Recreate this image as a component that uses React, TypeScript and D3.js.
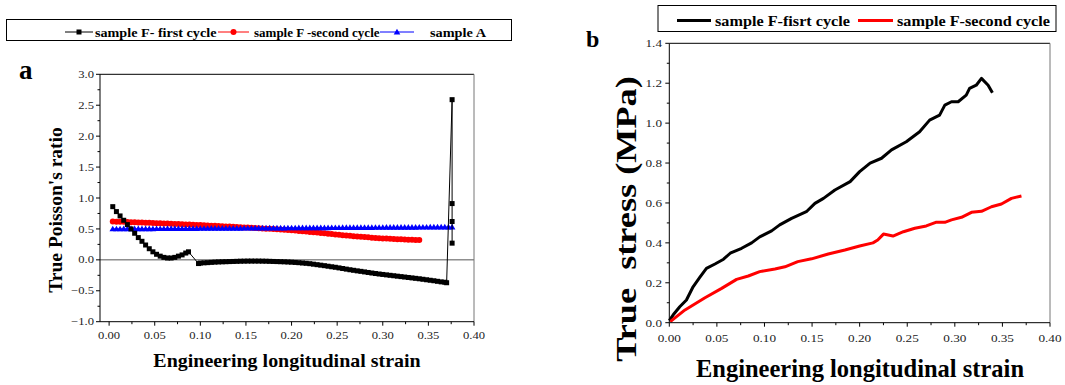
import React from "react";
import * as d3 from "d3";

// ---------- DATA ----------
// Common strain grid used by marker series in panel (a)
const strainGrid = [
  0.004, 0.008, 0.012, 0.016, 0.020, 0.024, 0.028, 0.032, 0.036, 0.040,
  0.044, 0.048, 0.052, 0.056, 0.060, 0.064, 0.068, 0.072, 0.076, 0.080,
  0.084, 0.088, 0.092, 0.096, 0.100, 0.104, 0.108, 0.112, 0.116, 0.120,
  0.124, 0.128, 0.132, 0.136, 0.140, 0.144, 0.148, 0.152, 0.156, 0.160,
  0.164, 0.168, 0.172, 0.176, 0.180, 0.184, 0.188, 0.192, 0.196, 0.200,
  0.204, 0.208, 0.212, 0.216, 0.220, 0.224, 0.228, 0.232, 0.236, 0.240,
  0.244, 0.248, 0.252, 0.256, 0.260, 0.264, 0.268, 0.272, 0.276, 0.280,
  0.284, 0.288, 0.292, 0.296, 0.300, 0.304, 0.308, 0.312, 0.316, 0.320,
  0.324, 0.328, 0.332, 0.336, 0.340, 0.344, 0.348, 0.352, 0.356, 0.360,
  0.364, 0.368, 0.372, 0.376,
];

// sample F - first cycle (panel a)
const strainF1a = [
  ...strainGrid.slice(0, 21), 0.087,
  0.098, ...strainGrid.slice(24, 92), 0.370,
  0.376, 0.376, 0.376, 0.376,
];
const poissonF1 = [
  0.86, 0.78, 0.71, 0.64, 0.57, 0.50, 0.43, 0.36, 0.30, 0.24,
  0.18, 0.13, 0.09, 0.06, 0.04, 0.03, 0.03, 0.04, 0.06, 0.08,
  0.11, 0.13,
  -0.060,
  -0.052, -0.048, -0.045, -0.041, -0.037, -0.034, -0.032, -0.030, -0.028, -0.026,
  -0.024, -0.022, -0.021, -0.020, -0.020, -0.020, -0.020, -0.021, -0.022, -0.024,
  -0.026, -0.028, -0.030, -0.032, -0.035, -0.038, -0.042, -0.046, -0.051, -0.056,
  -0.062, -0.070, -0.078, -0.086, -0.094, -0.103, -0.112, -0.120, -0.130, -0.140,
  -0.150, -0.160, -0.169, -0.178, -0.186, -0.195, -0.204, -0.213, -0.221, -0.229,
  -0.236, -0.243, -0.250, -0.257, -0.264, -0.271, -0.278, -0.285, -0.292, -0.299,
  -0.306, -0.314, -0.322, -0.330, -0.338, -0.347, -0.356, -0.362,
  -0.370,
  2.59, 0.91, 0.62, 0.27,
];

// sample F - second cycle (panel a)
const strainF2a = strainGrid.slice(0, 85);
const poissonF2 = [
  0.620, 0.618, 0.616, 0.614, 0.611, 0.609, 0.607, 0.605, 0.602, 0.600,
  0.598, 0.596, 0.593, 0.591, 0.589, 0.586, 0.584, 0.581, 0.579, 0.576,
  0.573, 0.571, 0.568, 0.565, 0.562, 0.559, 0.556, 0.553, 0.550, 0.547,
  0.544, 0.541, 0.538, 0.535, 0.532, 0.528, 0.525, 0.522, 0.518, 0.515,
  0.511, 0.508, 0.504, 0.501, 0.497, 0.493, 0.489, 0.486, 0.482, 0.478,
  0.473, 0.468, 0.463, 0.458, 0.452, 0.447, 0.441, 0.435, 0.429, 0.423,
  0.417, 0.411, 0.405, 0.399, 0.393, 0.388, 0.383, 0.378, 0.373, 0.368,
  0.364, 0.359, 0.355, 0.351, 0.347, 0.344, 0.341, 0.338, 0.335, 0.332,
  0.329, 0.327, 0.324, 0.322, 0.320,
];

// sample A (panel a)
const strainA = strainGrid;
const poissonA = [
  0.500, 0.500, 0.500, 0.501, 0.501, 0.501, 0.502, 0.502, 0.502, 0.503,
  0.503, 0.503, 0.504, 0.504, 0.504, 0.505, 0.505, 0.505, 0.506, 0.506,
  0.506, 0.507, 0.507, 0.507, 0.508, 0.508, 0.508, 0.509, 0.509, 0.509,
  0.510, 0.510, 0.510, 0.511, 0.511, 0.511, 0.512, 0.512, 0.512, 0.513,
  0.513, 0.513, 0.514, 0.514, 0.514, 0.515, 0.515, 0.515, 0.516, 0.516,
  0.516, 0.517, 0.517, 0.517, 0.518, 0.518, 0.518, 0.519, 0.519, 0.519,
  0.520, 0.520, 0.520, 0.521, 0.521, 0.521, 0.522, 0.522, 0.522, 0.523,
  0.523, 0.523, 0.524, 0.524, 0.524, 0.525, 0.525, 0.525, 0.526, 0.526,
  0.526, 0.527, 0.527, 0.527, 0.528, 0.528, 0.528, 0.529, 0.529, 0.529,
  0.530, 0.530, 0.530, 0.530,
];

// panel b: true stress vs strain
const strainF1b = [
  0.000, 0.005, 0.011, 0.018, 0.025, 0.032, 0.039, 0.048, 0.057, 0.064,
  0.076, 0.0865, 0.095, 0.1075, 0.116, 0.1285, 0.144, 0.153, 0.162, 0.174,
  0.190, 0.200, 0.211, 0.223, 0.2335, 0.249, 0.263, 0.2735, 0.284, 0.2895,
  0.2965, 0.3035, 0.312, 0.3155, 0.3225, 0.328, 0.335, 0.3395,
];
const stressF1 = [
  0.010, 0.045, 0.080, 0.114, 0.180, 0.227, 0.272, 0.294, 0.318, 0.348,
  0.373, 0.400, 0.430, 0.460, 0.490, 0.523, 0.556, 0.598, 0.623, 0.665,
  0.707, 0.757, 0.800, 0.824, 0.866, 0.907, 0.957, 1.015, 1.040, 1.090,
  1.107, 1.107, 1.140, 1.174, 1.190, 1.224, 1.190, 1.152,
];
const strainF2b = [
  0.001, 0.0165, 0.0375, 0.055, 0.0707, 0.083, 0.095, 0.111, 0.1215, 0.135,
  0.1495, 0.167, 0.1845, 0.200, 0.214, 0.219, 0.225, 0.235, 0.246, 0.258,
  0.270, 0.280, 0.2895, 0.2965, 0.307, 0.3175, 0.328, 0.3385, 0.349, 0.3595,
  0.370,
];
const stressF2 = [
  0.005, 0.064, 0.125, 0.172, 0.217, 0.234, 0.256, 0.269, 0.280, 0.306,
  0.320, 0.344, 0.364, 0.384, 0.400, 0.414, 0.444, 0.434, 0.456, 0.473,
  0.485, 0.503, 0.503, 0.515, 0.528, 0.553, 0.558, 0.581, 0.595, 0.623,
  0.635,
];

const aXTicks = [0.0, 0.05, 0.10, 0.15, 0.20, 0.25, 0.30, 0.35, 0.40];
const aYTicks = [-1.0, -0.5, 0.0, 0.5, 1.0, 1.5, 2.0, 2.5, 3.0];
const bXTicks = [0.0, 0.05, 0.10, 0.15, 0.20, 0.25, 0.30, 0.35, 0.40];
const bYTicks = [0.0, 0.2, 0.4, 0.6, 0.8, 1.0, 1.2, 1.4];

const legendA = ["sample F- first cycle", "sample F -second cycle", "sample A"];
const legendB = ["sample F-fisrt cycle", "sample F-second cycle"];

// ---------- DRAWING ----------
const FONT = '"Liberation Serif", "Times New Roman", Times, serif';

type TP = {
  x: number; y: number; size: number; sx?: number; anchor?: string;
  weight?: string; rotate?: number; fill?: string; children: React.ReactNode;
};
function Txt({ x, y, size, sx = 1, anchor = "start", weight = "normal", rotate = 0, fill = "#000", children }: TP) {
  return (
    <text
      transform={`translate(${x},${y}) rotate(${rotate}) scale(${sx},1)`}
      fontSize={size}
      fontFamily={FONT}
      fontWeight={weight}
      textAnchor={anchor as any}
      fill={fill}
      style={{ whiteSpace: "pre" }}
    >
      {children}
    </text>
  );
}

const mids = (arr: number[]) => arr.slice(0, -1).map((v, i) => (v + arr[i + 1]) / 2);

function Square({ cx, cy, s = 5, fill = "#000" }: any) {
  return <rect x={cx - s / 2} y={cy - s / 2} width={s} height={s} fill={fill} />;
}
function Tri({ cx, cy, fill = "#0000ff" }: any) {
  return <path d={`M${cx},${cy - 3.3}L${cx + 3.3},${cy + 2.4}L${cx - 3.3},${cy + 2.4}Z`} fill={fill} />;
}

export default function App() {
  // panel a scales
  const ax = d3.scaleLinear().domain([-0.01, 0.40]).range([100, 474]);
  const ay = d3.scaleLinear().domain([-1, 3]).range([321.7, 74.3]);
  // panel b scales
  const bx = d3.scaleLinear().domain([0, 0.4]).range([669.3, 1050]);
  const by = d3.scaleLinear().domain([0, 1.4]).range([322.7, 43.3]);

  const lineA = (xs: number[], ys: number[]) =>
    d3.line<number>().x((_, i) => ax(xs[i])).y((d) => ay(d))(ys) || "";
  const lineB = (xs: number[], ys: number[]) =>
    d3.line<number>().x((_, i) => bx(xs[i])).y((d) => by(d))(ys) || "";

  const aX0 = 100, aX1 = 474, aY0 = 74.3, aY1 = 321.7;
  const bX0 = 669.3, bX1 = 1050, bY0 = 43.3, bY1 = 322.7;

  const fmt1 = d3.format(".1f");
  const fmt2 = d3.format(".2f");

  return (
    <svg width={1065} height={385} style={{ position: "absolute", left: 0, top: 0, background: "#fff" }}>
      <rect x={0} y={0} width={1065} height={385} fill="#fff" />

      {/* ================= Panel a ================= */}
      {/* legend */}
      <rect x={6.5} y={19.5} width={505} height={21} fill="none" stroke="#000" strokeWidth={1} />
      <line x1={65} x2={93} y1={32} y2={32} stroke="#000" strokeWidth={1} />
      <Square cx={79} cy={32} s={5} />
      <Txt x={95} y={36.5} size={13} sx={1.09} weight="bold">{legendA[0]}</Txt>
      <line x1={218} x2={249} y1={32} y2={32} stroke="#ff0000" strokeWidth={1} />
      <circle cx={233.5} cy={32} r={3} fill="#ff0000" />
      <Txt x={254} y={36.5} size={13} sx={1.0} weight="bold">{legendA[1]}</Txt>
      <line x1={380} x2={414} y1={32} y2={32} stroke="#0000ff" strokeWidth={1} />
      <Tri cx={397} cy={32} />
      <Txt x={430} y={36.5} size={13} sx={1.1} weight="bold">{legendA[2]}</Txt>

      <Txt x={19} y={78.5} size={27} weight="bold">a</Txt>

      {/* zero line */}
      <line x1={aX0} x2={aX1} y1={ay(0)} y2={ay(0)} stroke="#555" strokeWidth={1} />

      {/* series: red, blue, black */}
      <path d={lineA(strainF2a, poissonF2)} fill="none" stroke="#ff0000" strokeWidth={1} />
      {poissonF2.map((v, i) => (
        <circle key={"r" + i} cx={ax(strainF2a[i])} cy={ay(v)} r={3} fill="#ff0000" />
      ))}
      <path d={lineA(strainA, poissonA)} fill="none" stroke="#0000ff" strokeWidth={1} />
      {poissonA.map((v, i) => (
        <Tri key={"b" + i} cx={ax(strainA[i])} cy={ay(v)} />
      ))}
      <path d={lineA(strainF1a, poissonF1)} fill="none" stroke="#000" strokeWidth={1} />
      {poissonF1.map((v, i) => (
        <Square key={"k" + i} cx={ax(strainF1a[i])} cy={ay(v)} s={5} />
      ))}

      {/* frame */}
      <line x1={aX0} x2={aX1} y1={aY0} y2={aY0} stroke="#000" strokeWidth={1} />
      <line x1={aX1} x2={aX1} y1={aY0} y2={aY1} stroke="#777" strokeWidth={1} />
      <line x1={aX0} x2={aX0} y1={aY0} y2={aY1} stroke="#000" strokeWidth={1} />
      <line x1={aX0} x2={aX1} y1={aY1} y2={aY1} stroke="#000" strokeWidth={1} />

      {/* y ticks */}
      {aYTicks.map((v) => (
        <g key={"ay" + v}>
          <line x1={aX0 - 4} x2={aX0} y1={ay(v)} y2={ay(v)} stroke="#000" />
          <Txt x={94} y={ay(v) + 3.6} size={10.5} sx={1.2} anchor="end" fill="#222">{fmt1(v)}</Txt>
        </g>
      ))}
      {mids(aYTicks).map((v) => (
        <line key={"aym" + v} x1={aX0 - 2.5} x2={aX0} y1={ay(v)} y2={ay(v)} stroke="#000" />
      ))}
      {/* x ticks */}
      {aXTicks.map((v) => (
        <g key={"ax" + v}>
          <line x1={ax(v)} x2={ax(v)} y1={aY1} y2={aY1 + 4} stroke="#000" />
          <Txt x={ax(v)} y={338.5} size={10.5} sx={1.2} anchor="middle" fill="#222">{fmt2(v)}</Txt>
        </g>
      ))}
      {mids(aXTicks).map((v) => (
        <line key={"axm" + v} x1={ax(v)} x2={ax(v)} y1={aY1} y2={aY1 + 2.5} stroke="#000" />
      ))}

      <Txt x={287} y={367} size={18} sx={1.11} anchor="middle" weight="bold">Engineering longitudinal strain</Txt>
      <Txt x={62} y={210} size={19.5} anchor="middle" weight="bold" rotate={-90}>True Poisson's ratio</Txt>

      {/* ================= Panel b ================= */}
      <rect x={658} y={5.5} width={398} height={26} fill="none" stroke="#000" strokeWidth={1} />
      <line x1={677} x2={711} y1={20.5} y2={20.5} stroke="#000" strokeWidth={3} />
      <Txt x={715} y={25.5} size={15} sx={1.08} weight="bold">{legendB[0]}</Txt>
      <line x1={858} x2={893} y1={20.5} y2={20.5} stroke="#ff0000" strokeWidth={3} />
      <Txt x={897} y={25.5} size={15} sx={1.08} weight="bold">{legendB[1]}</Txt>

      <Txt x={586} y={47} size={24} weight="bold">b</Txt>

      <path d={lineB(strainF1b, stressF1)} fill="none" stroke="#000" strokeWidth={3} strokeLinejoin="round" />
      <path d={lineB(strainF2b, stressF2)} fill="none" stroke="#ff0000" strokeWidth={3} strokeLinejoin="round" />

      <line x1={bX0} x2={bX1} y1={bY0} y2={bY0} stroke="#000" strokeWidth={1} />
      <line x1={bX1} x2={bX1} y1={bY0} y2={bY1} stroke="#777" strokeWidth={1} />
      <line x1={bX0} x2={bX0} y1={bY0} y2={bY1} stroke="#000" strokeWidth={1} />
      <line x1={bX0} x2={bX1} y1={bY1} y2={bY1} stroke="#000" strokeWidth={1} />

      {bYTicks.map((v) => (
        <g key={"by" + v}>
          <line x1={bX0 - 4} x2={bX0} y1={by(v)} y2={by(v)} stroke="#000" />
          <Txt x={662} y={by(v) + 3.8} size={11} sx={1.2} anchor="end" fill="#222">{fmt1(v)}</Txt>
        </g>
      ))}
      {mids(bYTicks).map((v) => (
        <line key={"bym" + v} x1={bX0 - 2.5} x2={bX0} y1={by(v)} y2={by(v)} stroke="#000" />
      ))}
      {bXTicks.map((v) => (
        <g key={"bx" + v}>
          <line x1={bx(v)} x2={bx(v)} y1={bY1} y2={bY1 + 4} stroke="#000" />
          <Txt x={bx(v)} y={341.5} size={11} sx={1.2} anchor="middle" fill="#222">{fmt2(v)}</Txt>
        </g>
      ))}
      {mids(bXTicks).map((v) => (
        <line key={"bxm" + v} x1={bx(v)} x2={bx(v)} y1={bY1} y2={bY1 + 2.5} stroke="#000" />
      ))}

      <Txt x={860} y={376.5} size={24.5} anchor="middle" weight="bold">Engineering longitudinal strain</Txt>
      <Txt x={636} y={219} size={29} sx={1.25} anchor="middle" weight="bold" rotate={-90}>{"True  stress (MPa)"}</Txt>
    </svg>
  );
}
